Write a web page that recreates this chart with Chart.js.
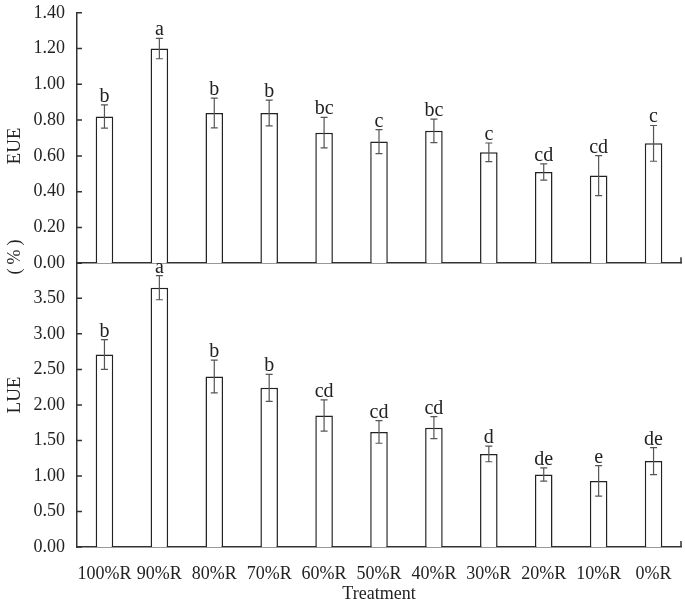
<!DOCTYPE html>
<html>
<head>
<meta charset="utf-8">
<script src="https://cdn.jsdelivr.net/npm/chart.js@4.4.1/dist/chart.umd.min.js"></script>
<style>
body { margin: 0; background: #fff; }
#wrap { position: relative; width: 685px; height: 606px; overflow: hidden; }
canvas { position: absolute; left: 0; }
.ylab {
    position: absolute;
    font-family: "Liberation Serif", serif;
    font-size: 19px;
    color: #222;
    white-space: nowrap;
    transform: translate(-50%, -50%) rotate(-90deg);
}
</style>
</head>
<body>
<div id="wrap">
    <canvas id="chartTop" width="685" height="296" style="top:-10px"></canvas>
    <canvas id="chartBottom" width="685" height="366" style="top:240px"></canvas>
    <div class="ylab" style="left:14px; top:146px">EUE</div>
    <div class="ylab" style="left:14px; top:257px; font-size:18px; letter-spacing:4px; padding-left:4px">(%)</div>
    <div class="ylab" style="left:14px; top:395px">LUE</div>
</div>
<script>
var treatments = ['100%R', '90%R', '80%R', '70%R', '60%R', '50%R', '40%R', '30%R', '20%R', '10%R', '0%R'];

var eue = [0.82, 1.20, 0.84, 0.84, 0.73, 0.68, 0.74, 0.62, 0.51, 0.49, 0.67];
var eueErr = [0.065, 0.057, 0.083, 0.072, 0.085, 0.067, 0.066, 0.052, 0.045, 0.112, 0.10];
var eueLetters = ['b', 'a', 'b', 'b', 'bc', 'c', 'bc', 'c', 'cd', 'cd', 'c'];

var lue = [2.71, 3.65, 2.40, 2.24, 1.85, 1.62, 1.68, 1.31, 1.02, 0.93, 1.21];
var lueErr = [0.21, 0.17, 0.23, 0.19, 0.22, 0.16, 0.155, 0.11, 0.094, 0.215, 0.19];
var lueLetters = ['b', 'a', 'b', 'b', 'cd', 'cd', 'cd', 'd', 'de', 'e', 'de'];

var serif = '"Liberation Serif", "Times New Roman", serif';

// error bars, significance letters, inward y ticks and the right end tick
var decor = {
    id: 'decor',
    afterDatasetsDraw: function(chart, args, opts) {
        var ctx = chart.ctx;
        var y = chart.scales.y;
        var area = chart.chartArea;
        var values = chart.data.datasets[0].data;
        var meta = chart.getDatasetMeta(0);
        ctx.save();
        ctx.strokeStyle = '#555';
        ctx.lineWidth = 1.2;
        ctx.fillStyle = '#222';
        ctx.font = '20px ' + serif;
        ctx.textAlign = 'center';
        ctx.textBaseline = 'alphabetic';
        meta.data.forEach(function(bar, i) {
            var hi = y.getPixelForValue(values[i] + opts.err[i]);
            var lo = y.getPixelForValue(values[i] - opts.err[i]);
            ctx.beginPath();
            ctx.moveTo(bar.x, hi); ctx.lineTo(bar.x, lo);
            ctx.moveTo(bar.x - 3.5, hi); ctx.lineTo(bar.x + 3.5, hi);
            ctx.moveTo(bar.x - 3.5, lo); ctx.lineTo(bar.x + 3.5, lo);
            ctx.stroke();
            ctx.fillText(opts.letters[i], bar.x, hi - 3);
        });
        ctx.strokeStyle = '#333';
        ctx.lineWidth = 1.5;
        ctx.beginPath();
        y.ticks.forEach(function(t) {
            var py = y.getPixelForValue(t.value);
            ctx.moveTo(area.left, py); ctx.lineTo(area.left + 5, py);
        });
        ctx.moveTo(area.right, area.bottom); ctx.lineTo(area.right, area.bottom - 6);
        ctx.stroke();
        ctx.restore();
    }
};

function makeChart(id, values, err, letters, yMax, step, showX) {
    var ctx = document.getElementById(id).getContext('2d');
    return new Chart(ctx, {
        type: 'bar',
        data: {
            labels: treatments,
            datasets: [{
                data: values,
                backgroundColor: '#fff',
                borderColor: '#222',
                borderWidth: 1.5,
                barPercentage: 0.32,
                categoryPercentage: 1
            }]
        },
        options: {
            responsive: false,
            animation: false,
            layout: { padding: { top: 1, right: 4, left: 0, bottom: 0 } },
            plugins: {
                legend: { display: false },
                tooltip: { enabled: false },
                decor: { err: err, letters: letters }
            },
            scales: {
                x: {
                    grid: { display: false },
                    border: { display: true, color: '#333', width: 1.5 },
                    ticks: {
                        display: showX,
                        padding: 8,
                        color: '#222',
                        font: { family: serif, size: 18 },
                        maxRotation: 0,
                        autoSkip: false
                    },
                    title: {
                        display: showX,
                        text: 'Treatment',
                        color: '#222',
                        font: { family: serif, size: 18 },
                        padding: { top: 0, bottom: 1 }
                    },
                    afterFit: function(scale) { scale.height = showX ? 59 : 8; }
                },
                y: {
                    min: 0,
                    max: yMax,
                    grid: { display: false, drawTicks: false },
                    border: { display: true, color: '#333', width: 1.5 },
                    ticks: {
                        stepSize: step,
                        padding: 12,
                        color: '#222',
                        font: { family: serif, size: 18 },
                        callback: function(v) { return v >= 4 ? '' : v.toFixed(2); }
                    },
                    afterFit: function(scale) { scale.width = 77; }
                }
            }
        },
        plugins: [decor]
    });
}

makeChart('chartTop', eue, eueErr, eueLetters, 1.4, 0.2, false);
makeChart('chartBottom', lue, lueErr, lueLetters, 4.0, 0.5, true);
</script>
</body>
</html>
